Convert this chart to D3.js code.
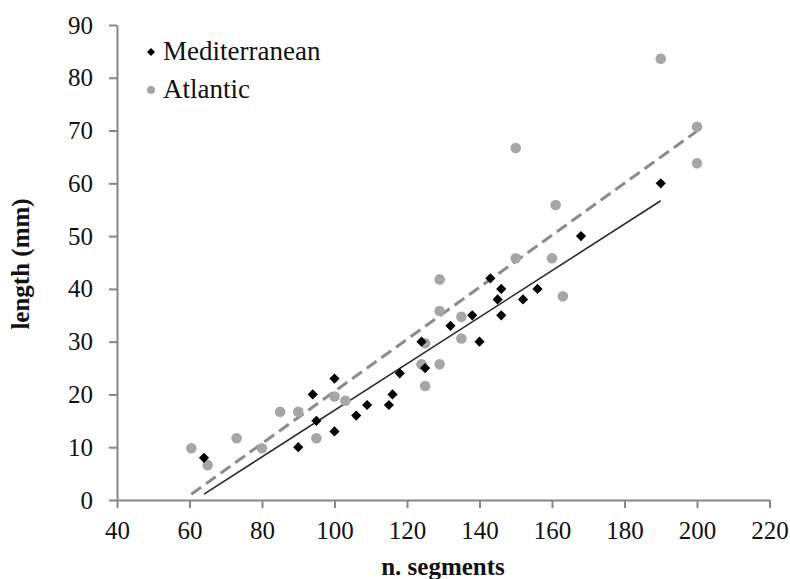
<!DOCTYPE html>
<html><head><meta charset="utf-8">
<script src="https://cdn.jsdelivr.net/npm/d3@7"></script>
<style>body{margin:0;background:#fff}svg{display:block}text{font-family:"Liberation Serif","Times New Roman",serif}</style>
</head><body><svg id="c" width="790" height="579"></svg>
<script>
const medX = [64,90,94,95,100,100,106,109,115,116,118,124,125,132,138,140,143,145,146,146,152,156,168,190];
const medY = [8,10,20,15,23,13,16,18,18,20,24,30,25,33,35,30,42,38,40,35,38,40,50,60];
const atlX = [60.5,65,73,80,85,90,95,100,103,124,125,125,129,129,129,135,135,150,150,160,161,163,190,200,200];
const atlY = [9.8,6.6,11.7,9.8,16.7,16.7,11.7,19.6,18.8,25.7,21.6,29.7,25.7,35.8,41.8,34.7,30.6,45.8,66.7,45.8,55.9,38.6,83.6,70.7,63.8];
const medTrend = [[64,1.1],[190,56.7]];
const atlTrend = [[60.5,1.1],[200,69.9]];
const xTicks = [40,60,80,100,120,140,160,180,200,220];
const yTicks = [0,10,20,30,40,50,60,70,80,90];
const seriesNames = ["Mediterranean","Atlantic"];

const svg = d3.select("#c");
const x = d3.scaleLinear().domain([40,220]).range([117,769.5]);
const y = d3.scaleLinear().domain([0,90]).range([500,25]);
const axisCol = "#868686";

const xa = svg.append("g").attr("transform","translate(0,500)")
  .call(d3.axisBottom(x).tickValues(xTicks).tickSize(8).tickPadding(13).tickSizeOuter(0));
const ya = svg.append("g").attr("transform","translate(117,0)")
  .call(d3.axisLeft(y).tickValues(yTicks).tickSize(8).tickPadding(16).tickSizeOuter(0));
[xa,ya].forEach(g=>{
  g.select(".domain").attr("stroke",axisCol).attr("stroke-width",2);
  g.selectAll(".tick line").attr("stroke",axisCol).attr("stroke-width",2);
  g.selectAll(".tick text").attr("fill","#111").style("font-size","25px").style("font-family","'Liberation Serif',serif");
});

// trend lines
const line = d3.line().x(d=>x(d[0])).y(d=>y(d[1]));
svg.append("path").datum(atlTrend).attr("d",line).attr("fill","none")
  .attr("stroke","#8c8c8c").attr("stroke-width",3).attr("stroke-dasharray","12,6");
svg.append("path").datum(medTrend).attr("d",line).attr("fill","none")
  .attr("stroke","#2b2b2b").attr("stroke-width",1.6);

// points
const atl = atlX.map((v,i)=>[v,atlY[i]]);
const med = medX.map((v,i)=>[v,medY[i]]);
svg.append("g").selectAll("circle").data(atl).join("circle")
  .attr("cx",d=>x(d[0])).attr("cy",d=>y(d[1])).attr("r",5.3).attr("fill","#a6a6a6");
const dia = d3.symbol().type(d3.symbolSquare).size(52);
svg.append("g").selectAll("path").data(med).join("path")
  .attr("d",dia).attr("fill","#000")
  .attr("transform",d=>`translate(${x(d[0])},${y(d[1])}) rotate(45)`);

// legend
svg.append("path").attr("d",d3.symbol().type(d3.symbolSquare).size(32)).attr("fill","#000")
  .attr("transform","translate(151,52) rotate(45)");
svg.append("circle").attr("cx",151).attr("cy",90).attr("r",4).attr("fill","#a6a6a6");
svg.append("text").attr("x",163).attr("y",60).style("font-size","27px").attr("fill","#111").text(seriesNames[0]);
svg.append("text").attr("x",163).attr("y",98).style("font-size","27px").attr("fill","#111").text(seriesNames[1]);

// axis titles
svg.append("text").attr("x",443).attr("y",575).attr("text-anchor","middle")
  .style("font-size","25px").style("font-weight","bold").attr("fill","#111").text("n. segments");
svg.append("text").attr("transform","translate(29,264) rotate(-90)").attr("text-anchor","middle")
  .style("font-size","25px").style("font-weight","bold").attr("fill","#111").text("length (mm)");
</script></body></html>
